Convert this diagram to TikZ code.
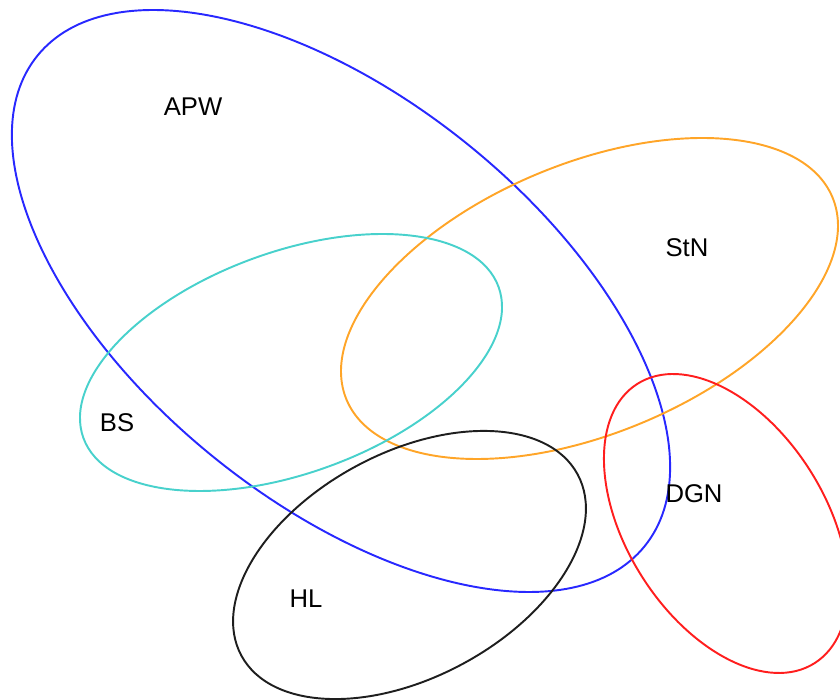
\documentclass[tikz,border=0pt]{standalone}
\usepackage{fontspec}
\setmainfont{Liberation Sans}
\definecolor{setblue}{RGB}{40,40,255}
\definecolor{setorange}{RGB}{255,165,40}
\definecolor{setcyan}{RGB}{72,209,204}
\definecolor{setred}{RGB}{255,30,30}
\definecolor{setblack}{RGB}{30,30,30}
\tikzset{
  set/.style={line width=1.1pt},
  set-apw/.style={set, draw=setblue},
  set-stn/.style={set, draw=setorange},
  set-bs/.style={set, draw=setcyan},
  set-hl/.style={set, draw=setblack},
  set-dgn/.style={set, draw=setred},
  set-label/.style={font=\fontsize{14.6}{17}\selectfont, inner sep=0pt}
}

\begin{document}
\begin{tikzpicture}[x=0.02cm, y=0.02cm]
  \useasboundingbox (0,0) rectangle (840,700);
  \clip (0,0) rectangle (840,700);
  % APW (big, tilted down)
  \draw[set-apw, rotate around={-38.9:(341,399)}]
    (341,399) ellipse [x radius=390.3, y radius=201.5];
  % StN
  \draw[set-stn, rotate around={22.6:(589.5,401.5)}]
    (589.5,401.5) ellipse [x radius=263.2, y radius=135];
  % BS
  \draw[set-bs, rotate around={20:(291,337.5)}]
    (291,337.5) ellipse [x radius=220.9, y radius=110.6];
  % HL
  \draw[set-hl, rotate around={28.3:(409.5,135)}]
    (409.5,135) ellipse [x radius=191, y radius=112.3];
  % DGN
  \draw[set-dgn, rotate around={-57.6:(726,176.5)}]
    (726,176.5) ellipse [x radius=165.4, y radius=99.4];
  % labels
  \node[set-label] (apw) at (193,593) {APW};
  \node[set-label] (stn) at (687,452) {StN};
  \node[set-label] (bs) at (117,277) {BS};
  \node[set-label] (hl) at (306,101) {HL};
  \node[set-label] (dgn) at (694,206) {DGN};
\end{tikzpicture}
\end{document}
